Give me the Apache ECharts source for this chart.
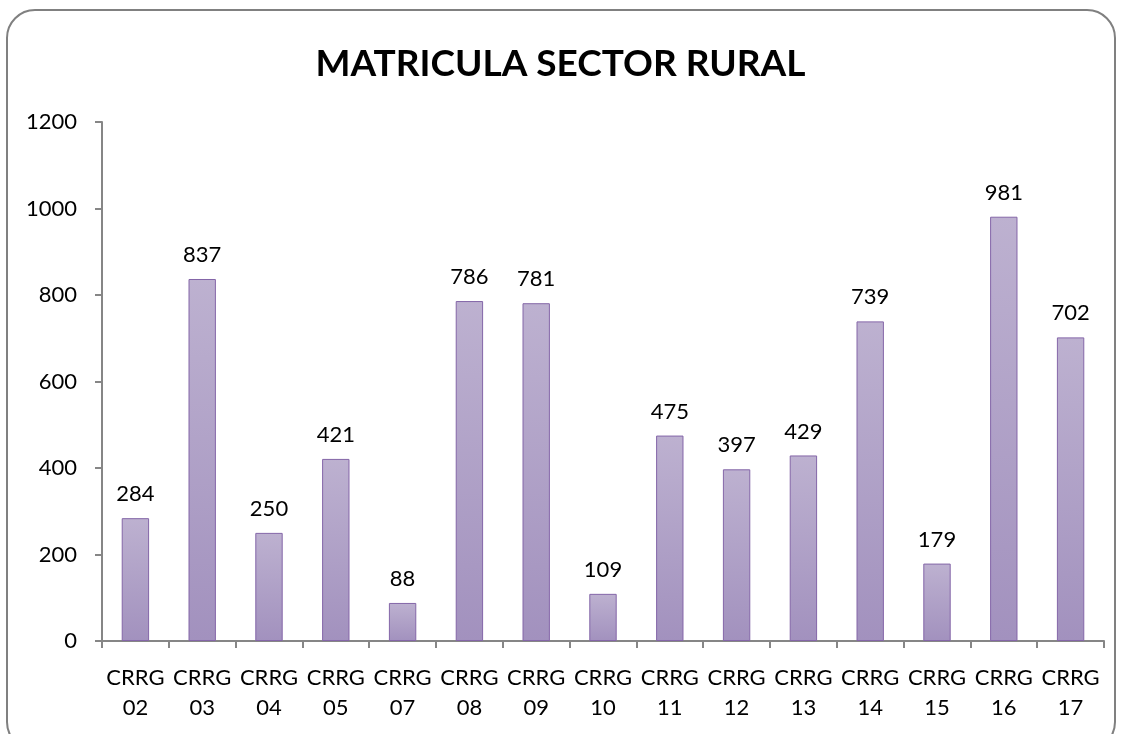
<!DOCTYPE html>
<html>
<head>
<meta charset="utf-8">
<script src="https://cdn.jsdelivr.net/npm/echarts@6/dist/echarts.min.js"></script>
<style>
  html, body { margin: 0; padding: 0; background: #fff; }
  #chart { width: 1121px; height: 734px; }
</style>
</head>
<body>
<div id="chart"></div>
<script>
// Data
var categories = ['CRRG\n02', 'CRRG\n03', 'CRRG\n04', 'CRRG\n05', 'CRRG\n07', 'CRRG\n08', 'CRRG\n09',
    'CRRG\n10', 'CRRG\n11', 'CRRG\n12', 'CRRG\n13', 'CRRG\n14', 'CRRG\n15', 'CRRG\n16', 'CRRG\n17'];
var matricula = [284, 837, 250, 421, 88, 786, 781, 109, 475, 397, 429, 739, 179, 981, 702];
var yTicks = [0, 200, 400, 600, 800, 1000, 1200];

var myChart = echarts.init(document.getElementById('chart'));

var font = 'Lato, "Open Sans", sans-serif';

var option = {
    animation: false,
    title: {
        text: 'MATRICULA SECTOR RURAL',
        left: 'center',
        top: 41,
        textStyle: { fontFamily: font, fontSize: 37, fontWeight: 'bold', color: '#000' }
    },
    graphic: [{
        type: 'rect',
        shape: { x: 7, y: 10, width: 1108, height: 740, r: 28 },
        style: { fill: 'none', stroke: '#808080', lineWidth: 2 },
        silent: true
    }],
    grid: { left: 102, right: 17, top: 122, bottom: 93 },
    xAxis: {
        type: 'category',
        data: categories,
        axisLine: { lineStyle: { color: '#868686', width: 2 } },
        axisTick: { show: true, length: 7, alignWithLabel: false, lineStyle: { color: '#868686', width: 2 } },
        axisLabel: { fontFamily: font, fontSize: 22, color: '#000', margin: 22, lineHeight: 30, interval: 0 }
    },
    yAxis: {
        type: 'value',
        min: yTicks[0],
        max: yTicks[yTicks.length - 1],
        interval: 200,
        splitLine: { show: false },
        axisLine: { show: true, lineStyle: { color: '#868686', width: 2 } },
        axisTick: { show: true, length: 7, lineStyle: { color: '#868686', width: 2 } },
        axisLabel: { fontFamily: font, fontSize: 22, color: '#000', margin: 25, formatter: function (v) { return String(v); } }
    },
    series: [{
        name: 'Matricula',
        type: 'bar',
        data: matricula,
        barWidth: '41%',
        itemStyle: {
            color: new echarts.graphic.LinearGradient(0, 0, 0, 1, [
                { offset: 0, color: '#bdb1d0' },
                { offset: 1, color: '#a291be' }
            ]),
            borderColor: '#8466a8',
            borderWidth: 1
        },
        label: {
            show: true,
            position: 'top',
            distance: 13,
            fontFamily: font,
            fontSize: 22,
            color: '#000'
        }
    }]
};

myChart.setOption(option);
</script>
</body>
</html>
